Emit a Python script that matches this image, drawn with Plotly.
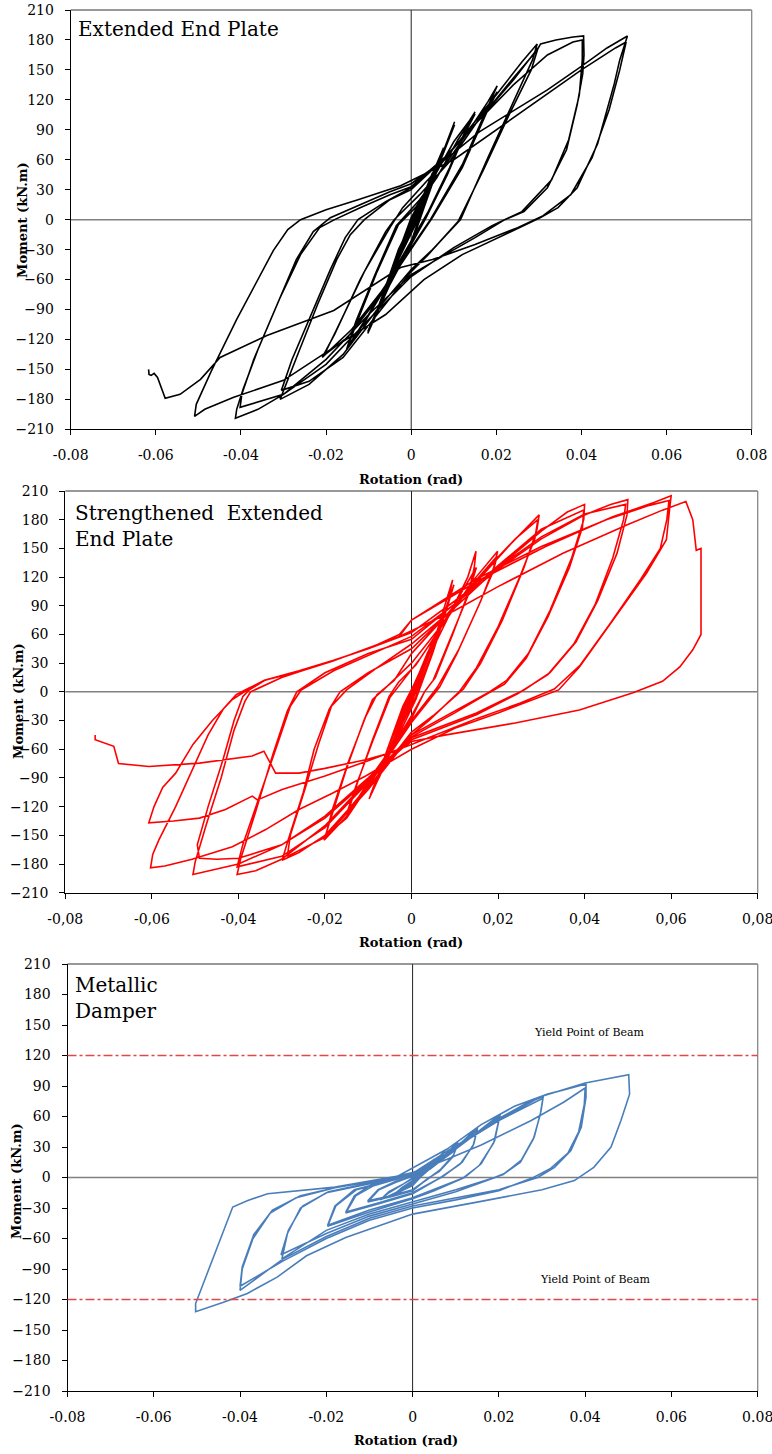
import plotly.graph_objects as go

W, H = 772, 1454

# ---------------- data (rotation rad, moment kN.m) ----------------
X_TICKS = [-0.08, -0.06, -0.04, -0.02, 0, 0.02, 0.04, 0.06, 0.08]
X_TEXT_DOT = ["-0.08", "-0.06", "-0.04", "-0.02", "0", "0.02", "0.04", "0.06", "0.08"]
X_TEXT_COMMA = ["-0,08", "-0,06", "-0,04", "-0,02", "0", "0,02", "0,04", "0,06", "0,08"]
Y_TICKS = list(range(-210, 211, 30))

EEP_PATH = [
    (0, 0), (0.002, 16), (0.0038, 34), (0.0025, 20), (0, -6), (-0.002, -22), (-0.0038, -40), (-0.0025, -26), (0, -2),
    (0.002, 15), (0.0038, 33), (0.0024, 18), (0, -7), (-0.002, -24), (-0.0038, -41), (-0.0024, -25), (0, -3),
    (0.0025, 20), (0.005, 47), (0.0032, 28), (0.0005, -4), (-0.0025, -30), (-0.005, -56), (-0.0032, -35), (-0.0005, -6),
    (0.0025, 19), (0.005, 46), (0.0033, 27), (0.0005, -5), (-0.0025, -31), (-0.005, -57), (-0.0033, -36), (-0.0004, -7),
    (0.003, 25), (0.0076, 72), (0.005, 46), (0.001, -3), (-0.003, -38), (-0.0076, -88), (-0.005, -62), (-0.001, -10),
    (0.003, 22), (0.0076, 70), (0.0052, 44), (0.001, -5), (-0.003, -40), (-0.0076, -90), (-0.005, -63), (-0.001, -12),
    (0.003, 22), (0.007, 62), (0.0102, 98), (0.0075, 68), (0.003, 15), (0, -22), (-0.005, -62), (-0.0102, -112), (-0.0075, -85), (-0.003, -30),
    (0.001, 5), (0.0065, 55), (0.0102, 95), (0.0078, 70), (0.003, 12), (0, -25), (-0.005, -65), (-0.0102, -114), (-0.0078, -88), (-0.003, -32),
    (0, 2), (0.005, 40), (0.01, 78), (0.0135, 98), (0.015, 108), (0.013, 92), (0.009, 52), (0.004, 8), (0, -22), (-0.005, -58), (-0.01, -95),
    (-0.015, -128), (-0.0125, -100), (-0.008, -52), (-0.003, -5),
    (0.001, 12), (0.006, 42), (0.011, 80), (0.015, 106), (0.0128, 88), (0.0085, 45), (0.0035, 2), (0, -25), (-0.006, -68), (-0.011, -103),
    (-0.0152, -130), (-0.013, -102), (-0.0085, -55), (-0.0035, -6),
    (0.002, 20), (0.008, 55), (0.014, 92), (0.018, 118), (0.0202, 134), (0.0185, 118), (0.012, 55), (0.0045, 0), (0, -28), (-0.007, -72),
    (-0.014, -110), (-0.0209, -138), (-0.018, -115), (-0.012, -60), (-0.006, -12), (-0.004, 0),
    (0.002, 25), (0.009, 58), (0.015, 95), (0.0202, 128), (0.018, 110), (0.012, 52), (0.005, 2), (0, -30), (-0.008, -80), (-0.015, -118),
    (-0.0205, -136), (-0.0175, -110), (-0.011, -52), (-0.005, -8),
    (-0.002, 12), (0.005, 45), (0.012, 82), (0.02, 125), (0.026, 158), (0.0296, 176), (0.0285, 160), (0.024, 118), (0.018, 62), (0.0116, 0),
    (0.005, -30), (0, -50), (-0.008, -90), (-0.016, -135), (-0.024, -165), (-0.0308, -180), (-0.029, -160), (-0.0262, -130), (-0.022, -85),
    (-0.0175, -40), (-0.0143, -15), (-0.011, 0), (-0.005, 20),
    (0, 30), (0.008, 62), (0.016, 100), (0.024, 140), (0.0298, 172), (0.0282, 150), (0.023, 105), (0.017, 50), (0.011, -2), (0.004, -35),
    (0, -52), (-0.008, -95), (-0.016, -138), (-0.024, -162), (-0.0305, -171), (-0.028, -140), (-0.024, -100), (-0.019, -50), (-0.0155, -18),
    (-0.0125, 0), (-0.006, 18),
    (0, 32), (0.008, 62), (0.016, 100), (0.024, 142), (0.0296, 170), (0.0304, 176), (0.034, 180), (0.038, 183), (0.0405, 184), (0.0406, 165),
    (0.0403, 146), (0.039, 115), (0.0365, 70), (0.032, 32), (0.0265, 8), (0.022, 0), (0.015, -18), (0.008, -35), (0, -55), (-0.01, -95),
    (-0.02, -140), (-0.03, -175), (-0.036, -190), (-0.0413, -199), (-0.041, -190), (-0.0395, -170), (-0.036, -130), (-0.031, -80),
    (-0.026, -35), (-0.0215, -8), (-0.018, 0), (-0.012, 12), (-0.005, 25),
    (0, 33), (0.008, 63), (0.016, 100), (0.024, 135), (0.032, 165), (0.038, 178), (0.0402, 180), (0.0402, 160), (0.0395, 125), (0.037, 80),
    (0.033, 40), (0.026, 8), (0.019, -6), (0.01, -28), (0, -57), (-0.01, -100), (-0.02, -145), (-0.03, -175), (-0.0402, -188),
    (-0.0398, -175), (-0.037, -140), (-0.032, -90), (-0.027, -40), (-0.023, -12), (-0.019, 2), (-0.012, 15), (-0.005, 28),
    (0, 36), (0.0085, 62), (0.016, 88), (0.024, 109), (0.032, 130), (0.0398, 153), (0.046, 172), (0.0508, 184), (0.049, 160), (0.0477, 136),
    (0.0438, 76), (0.039, 32), (0.0345, 12), (0.0304, 2), (0.0226, -14), (0.012, -35), (0.003, -60), (-0.006, -95), (-0.0182, -128),
    (-0.030, -161), (-0.0417, -178), (-0.0485, -190), (-0.0509, -197), (-0.0505, -185), (-0.047, -152), (-0.041, -100), (-0.0324, -31),
    (-0.029, -10), (-0.026, 0), (-0.02, 10), (-0.0125, 20), (-0.0025, 34),
    (0.01, 60), (0.02, 90), (0.03, 120), (0.04, 150), (0.048, 172), (0.0505, 178), (0.049, 150), (0.0465, 110), (0.0425, 62), (0.0375, 25),
    (0.031, 4), (0.025, -8), (0.015, -25), (0.005, -40), (-0.0025, -48), (-0.0182, -91), (-0.0339, -116), (-0.0449, -138), (-0.0495, -160),
    (-0.0543, -175), (-0.0578, -179), (-0.0588, -168), (-0.0596, -158), (-0.0604, -154), (-0.0611, -156), (-0.0616, -155), (-0.0617, -150),
]

SEEP_PATH = [
    (0, 0), (0.002, 22), (0.0038, 42), (0.0024, 26), (0, -4), (-0.002, -24), (-0.0038, -44), (-0.0024, -28), (0, -2),
    (0.002, 21), (0.0038, 41), (0.0024, 25), (0, -5), (-0.002, -25), (-0.0038, -45), (-0.0024, -28), (0, -3),
    (0.0025, 26), (0.005, 55), (0.0032, 33), (0, -6), (-0.0025, -32), (-0.005, -60), (-0.0032, -38), (0, -5),
    (0.0025, 25), (0.005, 54), (0.0032, 32), (0, -7), (-0.0025, -33), (-0.005, -61), (-0.0032, -39), (0, -6),
    (0.004, 40), (0.0075, 82), (0.0052, 55), (0.001, 2), (-0.003, -40), (-0.0075, -88), (-0.005, -62), (-0.001, -8),
    (0.004, 38), (0.0075, 80), (0.0052, 53), (0.001, 0), (-0.003, -42), (-0.0075, -90), (-0.005, -63), (-0.001, -10),
    (0.002, 15), (0.006, 65), (0.0095, 117), (0.0085, 95), (0.005, 45), (0.001, -5), (-0.004, -50), (-0.0095, -108), (-0.007, -78), (-0.002, -15),
    (0.002, 20), (0.0065, 68), (0.0098, 112), (0.0085, 92), (0.005, 42), (0.001, -8), (-0.004, -55), (-0.0098, -112), (-0.007, -80), (-0.002, -18),
    (0.002, 22), (0.006, 55), (0.01, 92), (0.013, 120), (0.0149, 147), (0.0145, 130), (0.013, 100), (0.009, 55), (0.005, 12), (0.003, 0),
    (0, -25), (-0.005, -62), (-0.01, -98), (-0.0144, -122), (-0.0125, -95), (-0.009, -50), (-0.0052, -5), (-0.003, 10),
    (0.001, 28), (0.006, 62), (0.011, 100), (0.015, 130), (0.0135, 108), (0.0095, 60), (0.0055, 15), (0.003, 0), (0, -28), (-0.006, -72),
    (-0.0115, -106), (-0.0148, -125), (-0.0128, -98), (-0.009, -52), (-0.005, -6), (-0.002, 12),
    (0.002, 35), (0.008, 75), (0.014, 115), (0.0199, 147), (0.019, 130), (0.016, 95), (0.011, 45), (0.006, 5), (0, -30), (-0.008, -80),
    (-0.015, -130), (-0.0202, -155), (-0.0185, -130), (-0.015, -80), (-0.011, -30), (-0.009, -8), (-0.0065, 2), (0, 30),
    (0.007, 70), (0.014, 112), (0.0198, 142), (0.0188, 125), (0.0155, 90), (0.0105, 40), (0.0065, 5), (0, -32), (-0.008, -85),
    (-0.015, -132), (-0.0198, -150), (-0.0182, -122), (-0.0145, -72), (-0.0105, -25), (-0.008, -3), (-0.004, 12),
    (0, 40), (0.008, 80), (0.016, 120), (0.023, 155), (0.0295, 185), (0.029, 170), (0.026, 130), (0.021, 75), (0.016, 30), (0.012, 3),
    (0.005, -25), (0, -42), (-0.01, -100), (-0.02, -150), (-0.026, -168), (-0.0299, -176), (-0.0285, -155), (-0.025, -105), (-0.0225, -60),
    (-0.019, -18), (-0.0165, 0), (-0.01, 20),
    (0, 45), (0.008, 80), (0.016, 122), (0.024, 160), (0.0292, 180), (0.0285, 160), (0.025, 120), (0.02, 68), (0.015, 25), (0.011, 0),
    (0.004, -30), (0, -45), (-0.01, -102), (-0.02, -152), (-0.0287, -172), (-0.028, -150), (-0.0245, -100), (-0.0215, -55), (-0.0185, -15),
    (-0.015, 2), (-0.008, 25),
    (0, 50), (0.01, 88), (0.02, 130), (0.03, 168), (0.036, 188), (0.04, 196), (0.0398, 180), (0.037, 140), (0.032, 85), (0.027, 40),
    (0.022, 12), (0.018, 0), (0.01, -20), (0, -45), (-0.01, -92), (-0.02, -140), (-0.03, -175), (-0.036, -187), (-0.0403, -191),
    (-0.0395, -175), (-0.036, -125), (-0.032, -65), (-0.0287, -20), (-0.0265, 0), (-0.02, 20), (-0.01, 40),
    (0, 55), (0.01, 92), (0.02, 132), (0.03, 170), (0.0398, 190), (0.0395, 172), (0.0365, 130), (0.0315, 78), (0.0265, 35), (0.0215, 8),
    (0.0175, -2), (0.01, -22), (0, -47), (-0.01, -95), (-0.02, -142), (-0.03, -172), (-0.0403, -183), (-0.039, -160), (-0.0355, -115),
    (-0.031, -55), (-0.028, -15), (-0.0255, 2), (-0.018, 22), (-0.008, 42),
    (0, 58), (0.01, 92), (0.02, 128), (0.03, 160), (0.04, 185), (0.046, 196), (0.05, 201), (0.0498, 185), (0.0475, 145), (0.043, 95),
    (0.038, 52), (0.032, 20), (0.026, 2), (0.015, -22), (0, -48), (-0.01, -90), (-0.02, -130), (-0.03, -160), (-0.04, -180),
    (-0.0505, -191), (-0.05, -178), (-0.0475, -140), (-0.044, -90), (-0.041, -40), (-0.0385, -10), (-0.0372, 0), (-0.03, 15),
    (-0.02, 30), (-0.01, 45),
    (0, 62), (0.01, 95), (0.02, 130), (0.03, 162), (0.04, 186), (0.0495, 196), (0.049, 180), (0.0465, 140), (0.0425, 92), (0.0375, 50),
    (0.0315, 18), (0.0245, -2), (0.015, -24), (0, -50), (-0.01, -92), (-0.02, -132), (-0.03, -160), (-0.04, -174), (-0.045, -175),
    (-0.049, -174), (-0.0495, -160), (-0.047, -120), (-0.0435, -70), (-0.041, -30), (-0.039, -5), (-0.0375, 2), (-0.0337, 12.5),
    (-0.026, 21), (-0.0183, 32), (-0.0028, 58),
    (0, 75), (0.0157, 117), (0.031, 152), (0.0465, 183), (0.056, 198), (0.06, 205), (0.0595, 185), (0.0589, 159), (0.0543, 124),
    (0.0465, 75), (0.0388, 26), (0.034, 2), (0.03, -5), (0.02, -22), (0.01, -38), (0, -60), (-0.0106, -88), (-0.0183, -106),
    (-0.026, -123), (-0.0337, -144), (-0.0414, -162), (-0.0507, -175), (-0.057, -182), (-0.0603, -184), (-0.0598, -170),
    (-0.0584, -155), (-0.0545, -120), (-0.0505, -80), (-0.047, -45), (-0.0435, -18), (-0.0405, -3), (-0.038, 3), (-0.034, 12),
    (-0.026, 22), (-0.018, 33), (-0.01, 45), (-0.0028, 60),
    (0, 75), (0.015, 118), (0.03, 152), (0.045, 180), (0.055, 195), (0.0595, 200), (0.059, 180), (0.0575, 150), (0.053, 118),
    (0.046, 72), (0.039, 28), (0.033, 3), (0.025, -12), (0.015, -28), (0, -55), (-0.01, -72), (-0.02, -88), (-0.0299, -102),
    (-0.0356, -113), (-0.0368, -109), (-0.043, -123), (-0.049, -132), (-0.055, -135), (-0.0607, -137), (-0.0595, -120),
    (-0.0575, -100), (-0.0545, -85), (-0.0505, -55), (-0.046, -30), (-0.0414, -8), (-0.039, -1), (-0.0368, 5.5), (-0.0337, 12.5),
    (-0.026, 21), (-0.0183, 32), (-0.0028, 58),
    (0.01, 85), (0.02, 110), (0.035, 145), (0.05, 175), (0.058, 190), (0.0634, 199), (0.065, 180), (0.0658, 148), (0.0669, 150),
    (0.0669, 100), (0.0669, 60), (0.065, 44), (0.062, 26), (0.058, 11), (0.0512, -1), (0.0388, -19), (0.0234, -33), (0.008, -45),
    (0, -52), (-0.0028, -61), (-0.0106, -71), (-0.02, -80), (-0.026, -85), (-0.0314, -85), (-0.0341, -62), (-0.0368, -67),
    (-0.049, -74.5), (-0.0607, -78), (-0.0677, -75), (-0.0688, -57), (-0.0731, -50), (-0.0731, -45),
]

MD_PATH = [
    (0, 0), (0.002, 7), (0.0038, 14), (0.0025, 8), (0, -3), (-0.002, -9), (-0.0038, -15), (-0.0025, -10), (0, -3),
    (0.002, 6), (0.0038, 13), (0.0025, 7), (0, -4), (-0.002, -10), (-0.0038, -15), (-0.0025, -10), (0, -4),
    (0.0025, 8), (0.005, 18), (0.0033, 11), (0, -5), (-0.0025, -12), (-0.005, -19), (-0.0033, -13), (0, -5),
    (0.0025, 7), (0.005, 17), (0.0033, 10), (0, -6), (-0.0025, -13), (-0.005, -19), (-0.0033, -13), (0, -5),
    (0.004, 12), (0.0075, 26), (0.0055, 15), (0.002, 2), (0, -7), (-0.004, -15), (-0.0075, -22), (-0.0055, -15), (-0.002, -6),
    (0.004, 11), (0.0075, 25), (0.0055, 14), (0.002, 1), (0, -8), (-0.004, -16), (-0.0075, -22), (-0.0055, -14), (-0.002, -6),
    (0.003, 6), (0.007, 20), (0.0105, 35), (0.0095, 22), (0.0065, 8), (0.004, 0), (0, -12), (-0.005, -18), (-0.0104, -23),
    (-0.008, -12), (-0.004, -4),
    (0.003, 5), (0.007, 19), (0.0105, 33), (0.0093, 20), (0.0062, 6), (0.0035, -1), (0, -13), (-0.005, -19), (-0.0104, -24),
    (-0.0078, -12), (-0.004, -5),
    (0.003, 6), (0.009, 25), (0.0151, 49.5), (0.0142, 33), (0.0115, 15), (0.007, 1), (0, -15), (-0.008, -25), (-0.0155, -34),
    (-0.0135, -18), (-0.0095, -7), (-0.004, -2),
    (0.003, 6), (0.009, 24), (0.015, 47), (0.014, 31), (0.011, 13), (0.0065, 0), (0, -16), (-0.008, -26), (-0.0155, -35),
    (-0.0132, -18), (-0.009, -8), (-0.004, -2),
    (0.004, 8), (0.01, 28), (0.016, 48), (0.0203, 62), (0.019, 36), (0.0159, 13.5), (0.012, 0), (0.005, -12), (0, -20),
    (-0.01, -32), (-0.0197, -47), (-0.018, -28), (-0.0135, -12), (-0.008, -6), (-0.003, -1),
    (0.004, 8), (0.01, 28), (0.016, 47), (0.0202, 60), (0.0188, 34), (0.0155, 12), (0.0115, -1), (0.005, -13), (0, -21),
    (-0.01, -34), (-0.0197, -48), (-0.0178, -28), (-0.013, -12), (-0.007, -5), (-0.003, -1),
    (0.005, 12), (0.012, 36), (0.02, 58), (0.026, 72), (0.0303, 80), (0.0298, 66), (0.0282, 40), (0.0252, 17), (0.0213, 4),
    (0.019, 0), (0.01, -12), (0, -24), (-0.01, -36), (-0.02, -52), (-0.0303, -80), (-0.029, -55), (-0.026, -30), (-0.02, -15),
    (-0.012, -8), (-0.004, -1),
    (0.005, 12), (0.012, 35), (0.02, 56), (0.0302, 78), (0.0296, 62), (0.028, 38), (0.025, 15), (0.021, 3), (0.0185, -1),
    (0.01, -14), (0, -26), (-0.01, -38), (-0.02, -55), (-0.0305, -76), (-0.0288, -52), (-0.0255, -28), (-0.0195, -14),
    (-0.012, -7), (-0.004, 0),
    (0.008, 28), (0.0159, 52), (0.0236, 70), (0.0313, 82), (0.0402, 92), (0.0402, 79), (0.0391, 49.5), (0.0367, 26.5),
    (0.0329, 10), (0.029, 0), (0.02, -12), (0.01, -20), (0, -28), (-0.01, -40), (-0.02, -58), (-0.03, -80), (-0.04, -111),
    (-0.0395, -90), (-0.037, -60), (-0.033, -35), (-0.027, -20), (-0.018, -10), (-0.008, -3), (0, 5),
    (0.008, 18), (0.0159, 32), (0.0275, 56), (0.035, 74), (0.04, 88), (0.0398, 72), (0.0385, 45), (0.036, 24), (0.032, 9),
    (0.028, 0), (0.02, -13), (0.01, -22), (0, -30), (-0.01, -42), (-0.02, -60), (-0.03, -82), (-0.04, -107), (-0.0395, -88),
    (-0.0368, -56), (-0.0325, -32), (-0.026, -18), (-0.018, -10), (-0.008, -3), (0, 4),
    (0.008, 26), (0.018, 52), (0.03, 80), (0.04, 93), (0.046, 98), (0.0501, 101), (0.0503, 82), (0.0483, 56), (0.046, 30),
    (0.042, 10), (0.0375, -3), (0.03, -12), (0.0165, -23), (0, -36), (-0.0155, -59), (-0.0246, -77), (-0.0314, -98),
    (-0.0383, -114), (-0.044, -123), (-0.0503, -132), (-0.0503, -124), (-0.0486, -105), (-0.045, -65), (-0.0417, -29),
    (-0.0382, -22.6), (-0.0336, -16), (-0.018, -9.5), (-0.0027, 2),
]

YIELD_MOMENT = [120, -120]
YIELD_LABEL = "Yield Point of Beam"
YIELD_LABEL_POS = [(0.041, 143), (0.0425, -100)]

PANEL_TITLES = ["Extended End Plate", "Strengthened  Extended<br>End Plate", "Metallic<br>Damper"]
LINE_COLORS = ["#000000", "#FF0000", "#4A7EBB"]

# ---------------- layout geometry (pixels) ----------------
# (left, right, top, bottom) of each plot area
PANELS_PX = [(70.7, 751.7, 10, 429.3), (65.3, 757.7, 491, 892.7), (67.5, 757.7, 964, 1391)]
TITLE_PX = [(76, 29), (73, 526), (73, 998)]
XTITLE_PX = [(411, 479), (411, 942), (406, 1440)]
YTITLE_PX = [(22, 220), (18, 701), (16, 1181)]

SERIF = "DejaVu Serif"

fig = go.Figure()
paths = [EEP_PATH, SEEP_PATH, MD_PATH]
for i, path in enumerate(paths):
    xs = [p[0] for p in path]
    ys = [p[1] for p in path]
    suffix = "" if i == 0 else str(i + 1)
    fig.add_trace(go.Scatter(x=xs, y=ys, mode="lines", xaxis="x" + suffix, yaxis="y" + suffix,
                             line=dict(color=LINE_COLORS[i], width=1.6), showlegend=False,
                             hoverinfo="skip"))

layout = dict(width=W, height=H, margin=dict(l=0, r=0, t=0, b=0, autoexpand=False), autosize=False,
              paper_bgcolor="white", plot_bgcolor="white", showlegend=False,
              font=dict(family=SERIF, color="black"))

shapes = []
annotations = []
for i, (l, r, t, b) in enumerate(PANELS_PX):
    suffix = "" if i == 0 else str(i + 1)
    xa = dict(domain=[l / W, r / W], range=[-0.08, 0.08], tickvals=X_TICKS,
              ticktext=X_TEXT_COMMA if i == 1 else X_TEXT_DOT,
              ticks="outside", ticklen=5, tickcolor="black", tickwidth=1,
              showline=True, linecolor="black", linewidth=1, showgrid=False, zeroline=False,
              tickfont=dict(family=SERIF, size=14, color="black"), ticklabelstandoff=8,
              ticklabeloverflow="allow",
              anchor="y" + suffix, fixedrange=True, automargin=False)
    ya = dict(domain=[1 - b / H, 1 - t / H], range=[-210, 210], tickvals=Y_TICKS,
              ticks="outside", ticklen=5, tickcolor="black", tickwidth=1,
              showline=True, linecolor="black", linewidth=1, showgrid=False, zeroline=False,
              tickfont=dict(family=SERIF, size=14, color="black"), ticklabelstandoff=8,
              ticklabeloverflow="allow",
              anchor="x" + suffix, fixedrange=True, automargin=False)
    layout["xaxis" + suffix] = xa
    layout["yaxis" + suffix] = ya
    xr = "x" + suffix
    yr = "y" + suffix
    shapes.append(dict(type="line", xref=xr + " domain", yref=yr + " domain", x0=0, x1=1, y0=1, y1=1,
                       line=dict(color="#333333", width=1)))
    shapes.append(dict(type="line", xref=xr + " domain", yref=yr + " domain", x0=1, x1=1, y0=0, y1=1,
                       line=dict(color="#888888", width=1.3)))
    shapes.append(dict(type="line", xref=xr + " domain", yref=yr, x0=0, x1=1, y0=0, y1=0,
                       line=dict(color="#808080", width=1.5), layer="below"))
    shapes.append(dict(type="line", xref=xr, yref=yr + " domain", x0=0, x1=0, y0=0, y1=1,
                       line=dict(color="#222222", width=1), layer="below"))
    tx, ty = TITLE_PX[i]
    annotations.append(dict(text=PANEL_TITLES[i], xref="paper", yref="paper", x=tx / W, y=1 - ty / H,
                            xanchor="left", yanchor="middle", showarrow=False, align="left",
                            font=dict(family=SERIF, size=20, color="black")))
    ax_, ay_ = XTITLE_PX[i]
    annotations.append(dict(text="<b>Rotation (rad)</b>", xref="paper", yref="paper", x=ax_ / W, y=1 - ay_ / H,
                            xanchor="center", yanchor="middle", showarrow=False,
                            font=dict(family=SERIF, size=13, color="black")))
    mx, my = YTITLE_PX[i]
    annotations.append(dict(text="<b>Moment (kN.m)</b>", xref="paper", yref="paper", x=mx / W, y=1 - my / H,
                            xanchor="center", yanchor="middle", showarrow=False, textangle=-90,
                            font=dict(family=SERIF, size=13, color="black")))

for m in YIELD_MOMENT:
    shapes.append(dict(type="line", xref="x3 domain", yref="y3", x0=0, x1=1, y0=m, y1=m,
                       line=dict(color="#E04848", width=1.3, dash="dashdot")))
for (lx, ly) in YIELD_LABEL_POS:
    annotations.append(dict(text=YIELD_LABEL, xref="x3", yref="y3", x=lx, y=ly, showarrow=False,
                            xanchor="center", yanchor="middle",
                            font=dict(family=SERIF, size=11, color="black")))

layout["shapes"] = shapes
layout["annotations"] = annotations
fig.update_layout(**layout)
fig.write_html("out.html", config={"displayModeBar": False},
               post_script="document.body.style.margin='0';document.body.style.padding='0';")
